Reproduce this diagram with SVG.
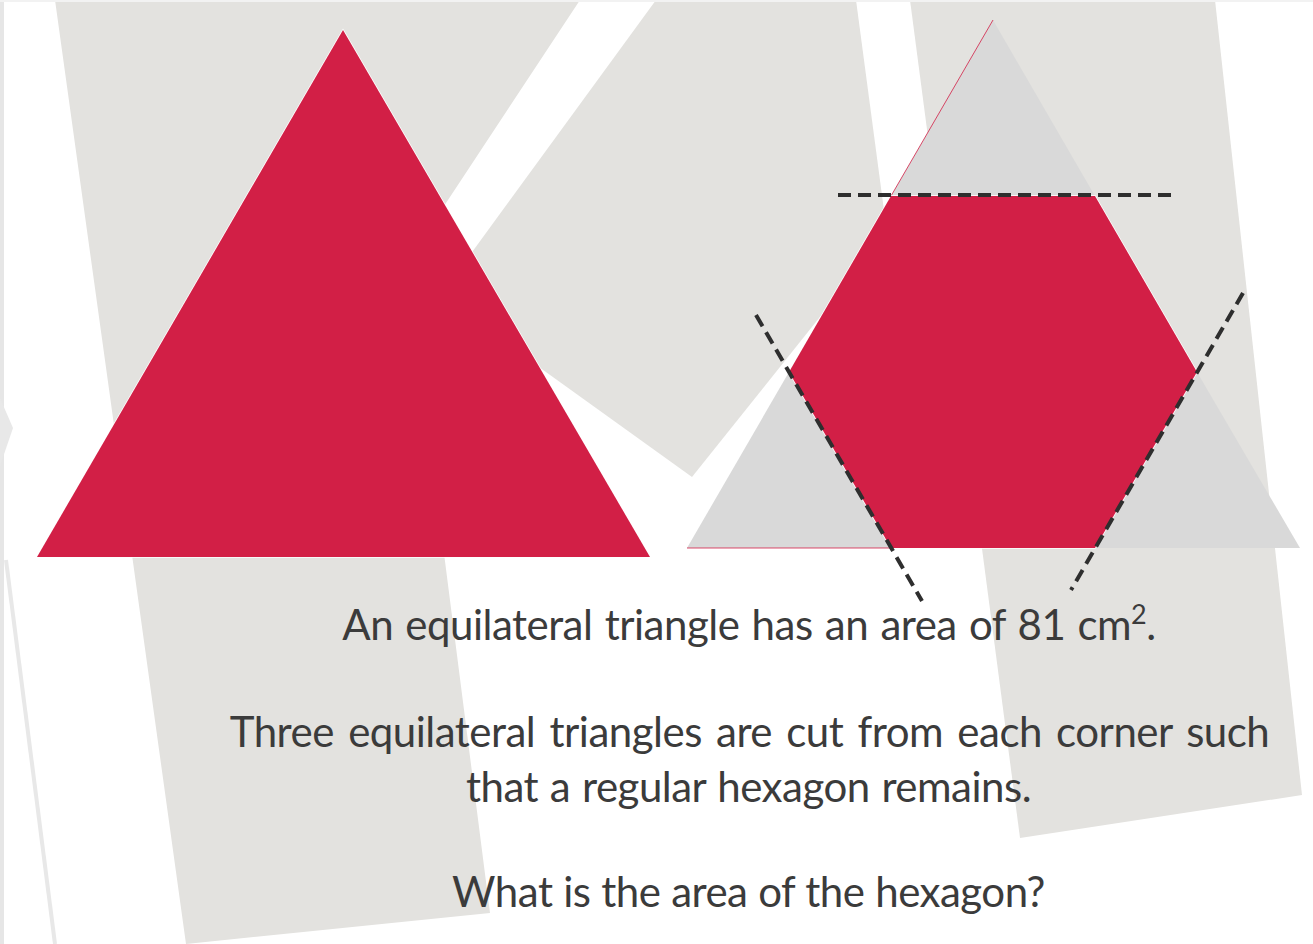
<svg xmlns="http://www.w3.org/2000/svg" width="1313" height="944" viewBox="0 0 1313 944">
  <style>
    .bg { fill: #e3e2df; }
    .red { fill: #d21f46; stroke: #ffffff; stroke-width: 1.5; stroke-linejoin: miter; paint-order: stroke; }
    .cut { fill: #d9d9d9; }
    .edge { stroke: #d21f46; stroke-width: 1; fill: none; opacity: 0.8; }
    .dash { stroke: #2e2e2e; stroke-width: 4; stroke-dasharray: 13 7; fill: none; }
    .txt { font-family: Lato, "Open Sans", "Liberation Sans", sans-serif; font-size: 42px; letter-spacing: -0.5px; fill: #3b3b3b; text-anchor: middle; }
  </style>
  <rect x="0" y="0" width="1313" height="944" fill="#ffffff"/>
  <g id="background">
    <rect x="0" y="0" width="4" height="944" fill="#e6e6e6"/>
    <polygon points="0,398 13,428 0,466" fill="#e8e8e8"/>
    <line x1="6" y1="560" x2="55" y2="944" stroke="#e8e8e8" stroke-width="4"/>
    <polygon class="bg" points="55,0 580,0 448,200 400,270 441,530 490,913 186,944"/>
    <polygon class="bg" points="656,0 856,0 887,233 692,477 440,296"/>
    <polygon class="bg" points="910,0 1215,0 1302,795 1020,838"/>
    <rect x="0" y="0" width="1313" height="2" fill="#f2f2f2"/>
  </g>
  <g id="triangle-left">
    <polygon class="red" points="343,30 650,557 37,557"/>
  </g>
  <g id="triangle-right">
    <polygon class="cut" points="993,20 1095,196 891,196"/>
    <polygon class="cut" points="789,372 891,548 687,548"/>
    <polygon class="cut" points="1197,372 1300,548 1095,548"/>
    <line class="edge" x1="993" y1="20" x2="891" y2="196"/>
    <line class="edge" x1="687" y1="548" x2="891" y2="548"/>
    <polygon id="hexagon" class="red" points="891,196 1095,196 1197,372 1095,548 891,548 789,372"/>
  </g>
  <g id="connectors">
    <line class="dash" x1="838" y1="195" x2="1178" y2="195"/>
    <line class="dash" x1="756" y1="315" x2="922" y2="601"/>
    <line class="dash" x1="1243" y1="293" x2="1071" y2="590"/>
  </g>
  <g id="text">
    <text class="txt" x="749" y="640" word-spacing="2">An equilateral triangle has an area of 81 cm<tspan font-size="27" dy="-16">2</tspan><tspan dy="16">.</tspan></text>
    <text class="txt" x="749.5" y="747" word-spacing="4">Three equilateral triangles are cut from each corner such</text>
    <text class="txt" x="748.5" y="802" word-spacing="1.5">that a regular hexagon remains.</text>
    <text class="txt" x="748.5" y="907" word-spacing="0.5">What is the area of the hexagon?</text>
  </g>
</svg>
